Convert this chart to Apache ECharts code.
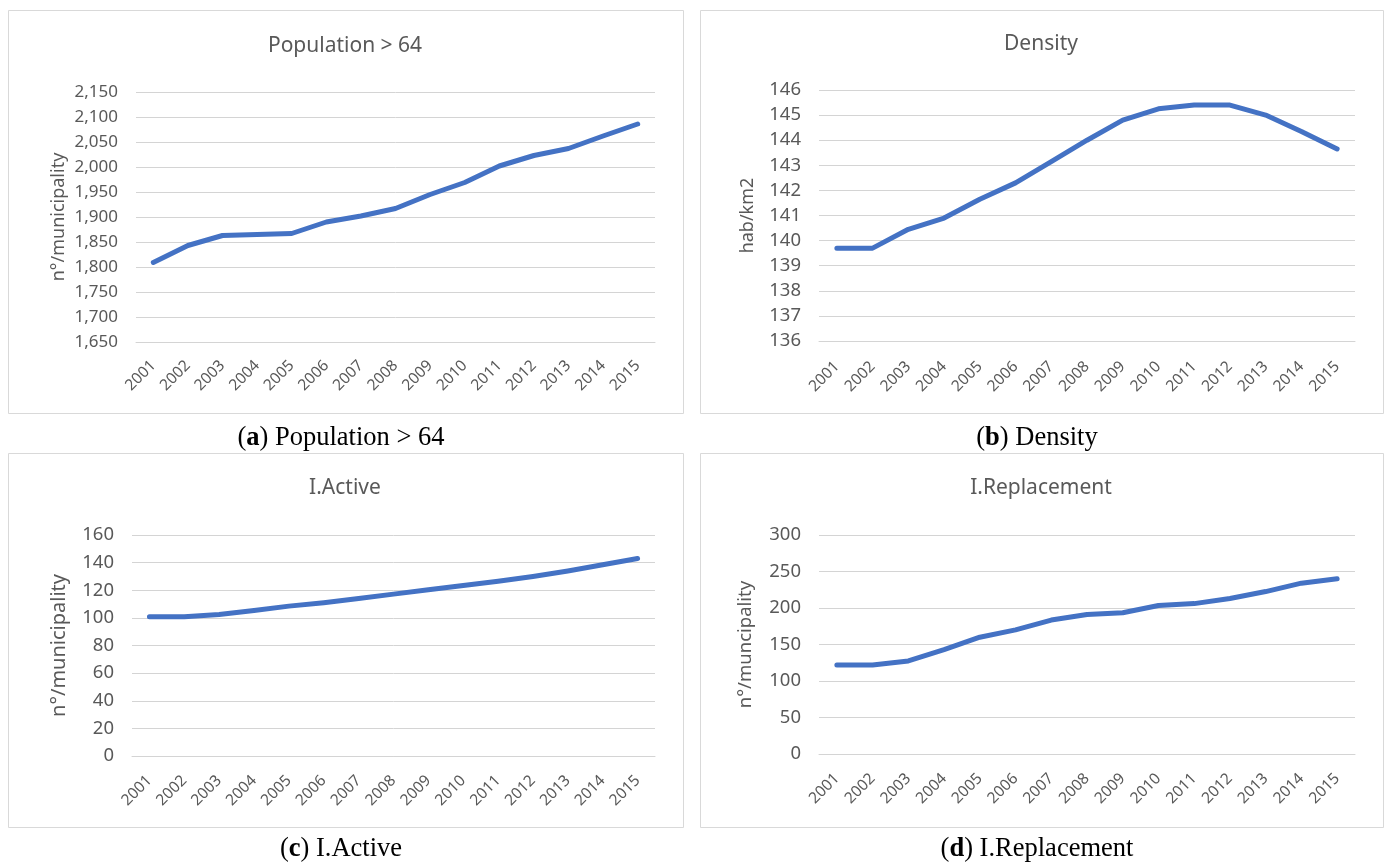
<!DOCTYPE html>
<html><head><meta charset="utf-8">
<script src="https://cdn.jsdelivr.net/npm/echarts@6/dist/echarts.min.js"></script>
<style>html,body{margin:0;padding:0;background:#fff}#c{width:1386px;height:864px}</style>
</head><body><div id="c"></div>
<script>
// ---- data ----
const years = ['2001','2002','2003','2004','2005','2006','2007','2008','2009','2010','2011','2012','2013','2014','2015'];
const popOver64 = [1809,1843,1863,1865,1867,1890,1902,1917,1945,1969,2002,2023,2037,2062,2086];
const density = [139.7,139.7,140.45,140.9,141.65,142.3,143.15,144.0,144.8,145.25,145.4,145.4,145.0,144.35,143.65];
const iActive = [100.8,100.8,102.5,105.3,108.5,111,114,117.2,120.3,123.5,126.5,130,134,138.5,143];
const iReplacement = [122,122,127.5,143,160,170,183.5,191,193.5,203.5,206,213,222.5,234,240];
const panelTitles = ['Population > 64','Density','I.Active','I.Replacement'];
const yAxisNames = ['n°/municipality','hab/km2','n°/municipality','n°/muncipality'];
const captionLetters = ['a','b','c','d'];
const yMin = [1650,136,0,0];
const yMax = [2150,146,160,300];
const yStep = [50,1,20,50];

// ---- layout ----
const FONT = '"Noto Sans", "Open Sans", sans-serif';
const GRAY = '#595959';
const BLUE = '#4472C4';
const panels = [
  {box:[8,10,675,403], grid:{left:136,top:92,width:519,height:250}, tx:345, ty:46, cy:438, tick:17, xl:15.5, nm:18, gap:68, xm:21},
  {box:[700,10,683,403], grid:{left:819,top:90,width:536,height:251}, tx:1041, ty:44, cy:438, tick:18.5, xl:15.5, nm:18, gap:62, xm:23},
  {box:[8,453,675,374], grid:{left:132,top:535,width:523,height:221}, tx:345, ty:488, cy:849, tick:18.5, xl:15.5, nm:20, gap:63, xm:22},
  {box:[700,453,683,374], grid:{left:819,top:535,width:536,height:219}, tx:1041, ty:488, cy:849, tick:18.5, xl:15.5, nm:18.5, gap:64, xm:22}
];
const seriesData = [popOver64, density, iActive, iReplacement];

const grids = [], xAxes = [], yAxes = [], series = [], graphics = [];
panels.forEach((p, i) => {
  graphics.push({type:'rect', shape:{x:p.box[0]+0.5,y:p.box[1]+0.5,width:p.box[2],height:p.box[3]},
    style:{fill:'#fff', stroke:'#d9d9d9', lineWidth:1}, z:-10});
  graphics.push({type:'text', x:p.tx, y:p.ty,
    style:{text:panelTitles[i], fill:GRAY, font:'21px '+FONT, align:'center', verticalAlign:'middle'}});
  graphics.push({type:'text', x:p.tx - 4, y:p.cy,
    style:{text:'{b|' + '(' + '}{bb|' + captionLetters[i] + '}{b|) ' + panelTitles[i] + '}',
      fill:'#000', align:'center', verticalAlign:'middle',
      rich:{b:{fontFamily:'"Liberation Serif", serif', fontSize:26.5, fill:'#000'},
            bb:{fontFamily:'"Liberation Serif", serif', fontSize:26.5, fontWeight:'bold', fill:'#000'}}}});
  grids.push(Object.assign({containLabel:false}, p.grid));
  xAxes.push({type:'category', gridIndex:i, data:years, boundaryGap:true,
    axisLine:{show:true, lineStyle:{color:'#d4d4d4', width:1}}, axisTick:{show:false},
    axisLabel:{rotate:45, color:GRAY, fontFamily:FONT, fontSize:p.xl, margin:p.xm, interval:0}});
  yAxes.push({type:'value', gridIndex:i, min:yMin[i], max:yMax[i], interval:yStep[i],
    name:yAxisNames[i], nameLocation:'middle', nameGap:p.gap, nameRotate:90,
    nameTextStyle:{color:GRAY, fontFamily:FONT, fontSize:p.nm},
    axisLine:{show:false}, axisTick:{show:false},
    splitLine:{show:true, lineStyle:{color:'#d4d4d4', width:1}},
    axisLabel:{color:GRAY, fontFamily:FONT, fontSize:p.tick, margin:18,
      formatter: v => v.toLocaleString('en-US')}});
  series.push({type:'line', xAxisIndex:i, yAxisIndex:i, data:seriesData[i], showSymbol:false,
    symbol:'none', lineStyle:{color:BLUE, width:5, cap:'round', join:'round'}, animation:false});
});

const chart = echarts.init(document.getElementById('c'), null, {renderer:'canvas'});
chart.setOption({animation:false, backgroundColor:'#fff', grid:grids, xAxis:xAxes, yAxis:yAxes, series:series, graphic:graphics});
</script></body></html>
